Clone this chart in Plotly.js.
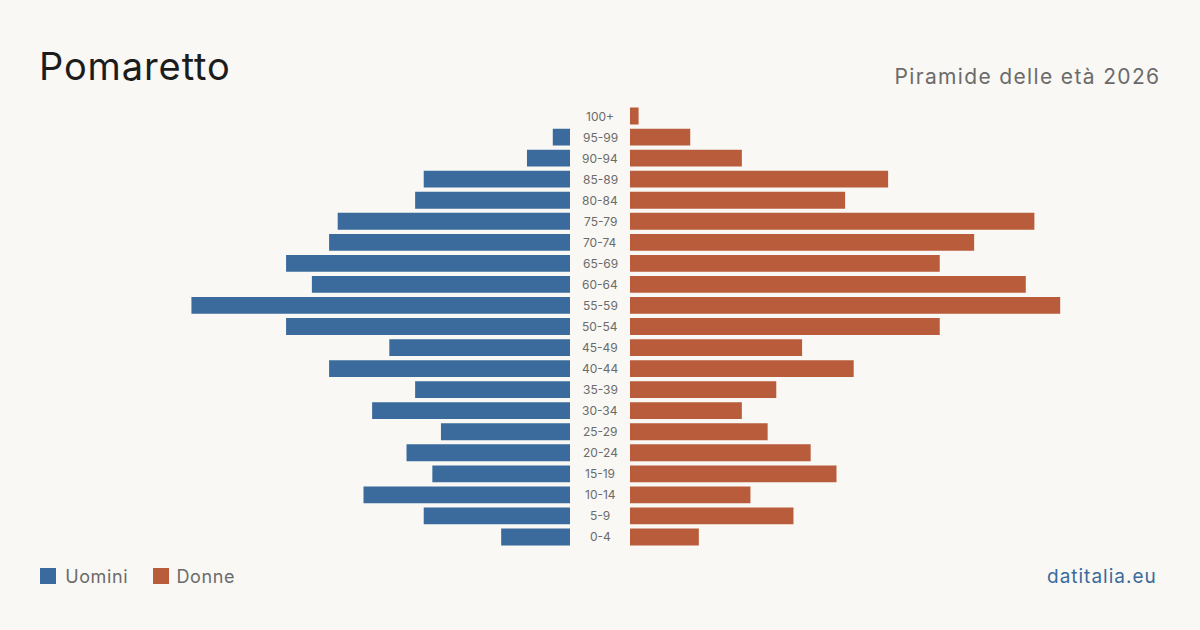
<!DOCTYPE html>
<html>
<head>
<meta charset="utf-8">
<script src="https://cdn.plot.ly/plotly-3.0.1.min.js"></script>
<style>
  html, body { margin: 0; padding: 0; background: #f9f8f4; }
  #chart { width: 1200px; height: 630px; }
</style>
</head>
<body>
<div id="chart"></div>
<script>
// Age classes, youngest first
const ageClasses = ["0-4","5-9","10-14","15-19","20-24","25-29","30-34","35-39","40-44","45-49",
  "50-54","55-59","60-64","65-69","70-74","75-79","80-84","85-89","90-94","95-99","100+"];
// Residents by age class
const uomini = [8,17,24,16,19,15,23,18,28,21,33,44,30,33,28,27,18,17,5,2,0];
const donne  = [8,19,14,24,21,16,13,17,26,20,36,50,46,36,40,47,25,30,13,7,1];

const BLUE = "#3a6b9c";
const RUST = "#b95c3b";
const W = 1200, H = 630;
const px = (x) => x / W;
const py = (y) => 1 - y / H;
const maxRange = 61.6;

const traces = [
  { type: "bar", orientation: "h", y: ageClasses, x: uomini, xaxis: "x", yaxis: "y",
    marker: { color: BLUE }, width: 0.8, hoverinfo: "skip", showlegend: false },
  { type: "bar", orientation: "h", y: ageClasses, x: donne, xaxis: "x2", yaxis: "y",
    marker: { color: RUST }, width: 0.8, hoverinfo: "skip", showlegend: false }
];

const font = "Inter, 'Noto Sans', sans-serif";

const annotations = ageClasses.map((a) => ({
  text: a, x: 0.5, xref: "paper", y: a, yref: "y", showarrow: false,
  xanchor: "center", yanchor: "middle", font: { family: font, size: 12, color: "#6b6b6b" }
}));

// Header and footer texts (centre point in pixels), with the extra letter spacing each one gets
const extras = [
  { text: "Pomaretto", cx: 135, y: 66, size: 38, color: "#1c1c1c", spacing: 0.9 },
  { text: "Piramide delle età 2026", cx: 1027, y: 76, size: 21, color: "#6b6b6b", spacing: 1.35 },
  { text: "Uomini", cx: 96, y: 576, size: 18, color: "#6b6b6b", spacing: 0.6 },
  { text: "Donne", cx: 206, y: 576, size: 18, color: "#6b6b6b", spacing: 0.6 },
  { text: "datitalia.eu", cx: 1102, y: 576, size: 19, color: BLUE, spacing: 1.0 }
];
const firstExtra = annotations.length;
extras.forEach((e) => annotations.push({
  text: e.text, x: px(e.cx), y: py(e.y), xref: "paper", yref: "paper", xanchor: "center", yanchor: "middle",
  showarrow: false, font: { family: font, size: e.size, color: e.color }
}));

const shapes = [
  { type: "rect", xref: "paper", yref: "paper", x0: px(40), x1: px(56), y0: py(568), y1: py(584),
    fillcolor: BLUE, line: { width: 0 } },
  { type: "rect", xref: "paper", yref: "paper", x0: px(153), x1: px(169), y0: py(568), y1: py(584),
    fillcolor: RUST, line: { width: 0 } }
];

const hidden = { showgrid: false, zeroline: false, showticklabels: false, showline: false, ticks: "", fixedrange: true };

const layout = {
  width: W, height: H,
  paper_bgcolor: "#f9f8f4", plot_bgcolor: "#f9f8f4",
  margin: { l: 0, r: 0, t: 0, b: 0, autoexpand: false },
  showlegend: false,
  bargap: 0.2,
  xaxis: Object.assign({ domain: [px(40), px(570)], range: [maxRange, 0] }, hidden),
  xaxis2: Object.assign({ domain: [px(630), px(1160)], range: [0, maxRange], anchor: "y" }, hidden),
  yaxis: Object.assign({ domain: [py(547.5), py(105.5)], type: "category", range: [-0.5, 20.5] }, hidden),
  annotations, shapes
};

Plotly.newPlot("chart", traces, layout, { staticPlot: true, displayModeBar: false }).then((gd) => {
  extras.forEach((e, i) => {
    const t = gd.querySelector('g.annotation[data-index="' + (firstExtra + i) + '"] text');
    if (t) t.style.letterSpacing = e.spacing + "px";
  });
});
</script>
</body>
</html>
